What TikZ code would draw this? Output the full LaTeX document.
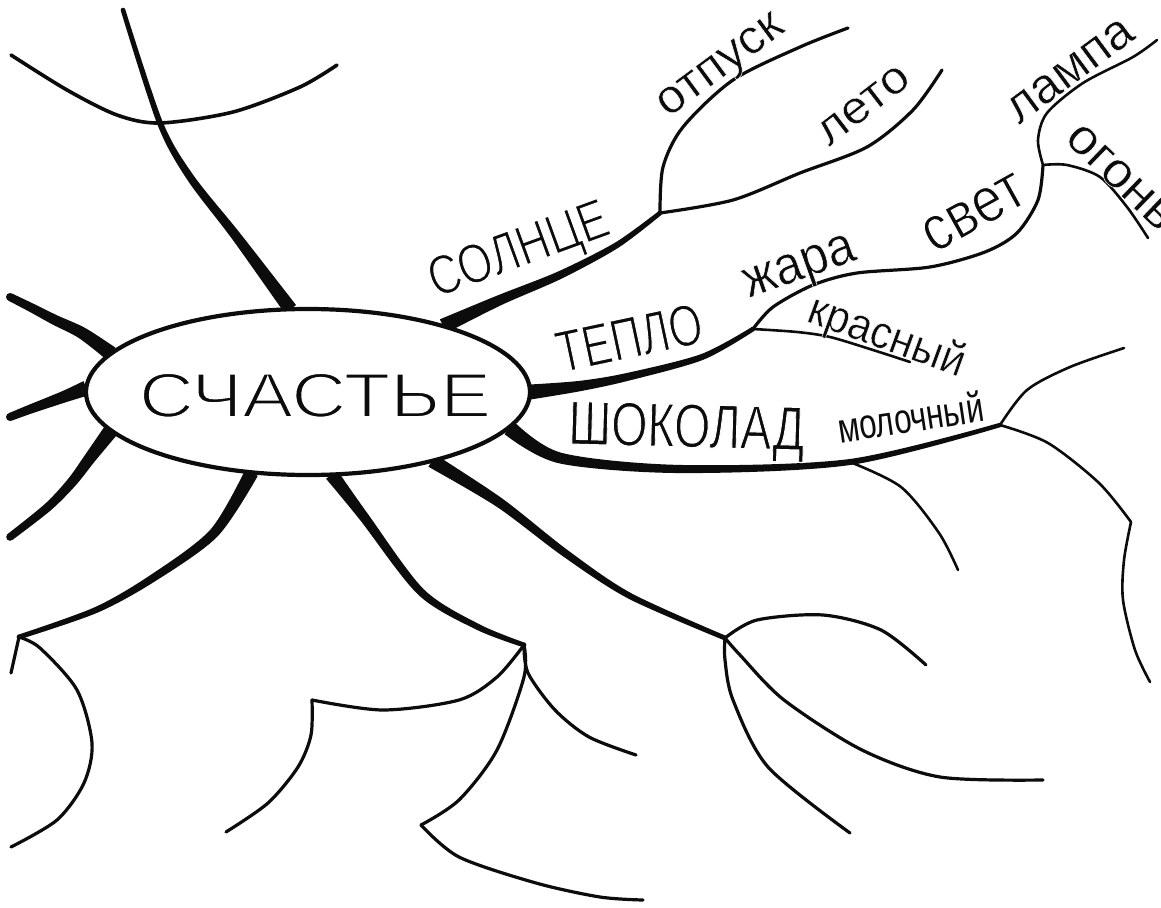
\documentclass[tikz,border=0pt]{standalone}
\usepackage{fontspec}
\setmainfont{Liberation Sans}
\usepackage{graphicx}
\usetikzlibrary{calc,shapes.geometric}
\definecolor{ink}{RGB}{12,12,12}
\pgfdeclarelayer{bg}
\pgfsetlayers{bg,main}
% tapered branch through five named points, half-widths #6 (start) and #7 (end)
\newcommand\taper[7]{%
  \pgfmathsetmacro\ta{#6}%
  \pgfmathsetmacro\tb{#7+(#6-#7)*0.55}%
  \pgfmathsetmacro\tc{#7+(#6-#7)*0.32}%
  \pgfmathsetmacro\td{#7+(#6-#7)*0.14}%
  \pgfmathsetmacro\te{#7}%
  \coordinate (tL1) at ($(#1)!\ta pt!90:(#2)$);
  \coordinate (tR1) at ($(#1)!\ta pt!-90:(#2)$);
  \coordinate (tv2) at ($(#1)!\tb pt!90:(#3)$);
  \coordinate (tL2) at ($(#2)+(tv2)-(#1)$);
  \coordinate (tR2) at ($(#2)-(tv2)+(#1)$);
  \coordinate (tv3) at ($(#2)!\tc pt!90:(#4)$);
  \coordinate (tL3) at ($(#3)+(tv3)-(#2)$);
  \coordinate (tR3) at ($(#3)-(tv3)+(#2)$);
  \coordinate (tv4) at ($(#3)!\td pt!90:(#5)$);
  \coordinate (tL4) at ($(#4)+(tv4)-(#3)$);
  \coordinate (tR4) at ($(#4)-(tv4)+(#3)$);
  \coordinate (tL5) at ($(#5)!\te pt!-90:(#4)$);
  \coordinate (tR5) at ($(#5)!\te pt!90:(#4)$);
  \fill[ink] plot[smooth] coordinates {(tL1) (tL2) (tL3) (tL4) (tL5)}
     -- plot[smooth] coordinates {(tR5) (tR4) (tR3) (tR2) (tR1)} -- cycle;
  \fill[ink] (#5) circle[radius=\te pt];
}
\newcommand\lbl[3]{\resizebox{#2pt}{\height}{\fontsize{#1pt}{#1pt}\selectfont #3}}
% thin the glyphs: fill, then stroke their outline in white
\newcommand\thinglyphs[1]{\special{pdf:literal direct 1 1 1 RG 2 Tr #1 w}}
\begin{document}
\begin{tikzpicture}[x=1pt,y=-1pt,
  thinbr/.style={draw=ink,line width=3.2pt,line cap=round,line join=round},
  finebr/.style={draw=ink,line width=2.6pt,line cap=round,line join=round},
  word/.style={inner sep=0pt,outer sep=0pt,anchor=base west,text=ink}]
\useasboundingbox (0,0) rectangle (1161,907);
\node[ellipse,draw=ink,fill=white,line width=4.2pt,minimum width=444pt,
      minimum height=166pt,inner sep=0pt,outer sep=0pt] (E) at (308,392) {};
\node[word] (wSch) at (139,417) {\thinglyphs{1.9}\lbl{63}{352}{СЧАСТЬЕ}};

\begin{pgfonlayer}{bg}
\fill[white] (0,0) rectangle (1161,907);
% junctions and ends
\coordinate (sJ) at (660,213);
\coordinate (tJ) at (753,329);
\coordinate (tK) at (1043,165);
\coordinate (iA) at (850,462);
\coordinate (iB) at (1000,425);
\coordinate (iK) at (1131,522);
\coordinate (gJ) at (524,645);
\coordinate (gK) at (312,700);
\coordinate (gL) at (421,825);
\coordinate (hJ) at (725,638);
\coordinate (fJ) at (19,637);
% thick tapered branches
\coordinate (a0) at (E.102); \coordinate (a1) at (236,236); \coordinate (a2) at (190,177);
\coordinate (a3) at (160,123); \coordinate (a4) at (123,10);
\taper{a0}{a1}{a2}{a3}{a4}{7}{2.3}
\coordinate (c0) at (E.169); \coordinate (c1) at (82,333); \coordinate (c2) at (55,320);
\coordinate (c3) at (32,308); \coordinate (c4) at (10,297);
\taper{c0}{c1}{c2}{c3}{c4}{7.5}{4}
\coordinate (d0) at (E.179); \coordinate (d1) at (66,396); \coordinate (d2) at (47,403);
\coordinate (d3) at (28,410); \coordinate (d4) at (10,417);
\taper{d0}{d1}{d2}{d3}{d4}{7.5}{4}
\coordinate (e0) at (E.191); \coordinate (e1) at (90,458); \coordinate (e2) at (72,482);
\coordinate (e3) at (48,507); \coordinate (e4) at (10,537);
\taper{e0}{e1}{e2}{e3}{e4}{7.5}{3.8}
\coordinate (f0) at (E.235); \coordinate (f1) at (214,533); \coordinate (f2) at (153,578);
\coordinate (f3) at (96,610);
\taper{f0}{f1}{f2}{f3}{fJ}{7}{2.4}
\coordinate (g0) at (E.286); \coordinate (g1) at (364,517); \coordinate (g2) at (421,592);
\coordinate (g3) at (478,627);
\taper{g0}{g1}{g2}{g3}{gJ}{7}{2.4}
\coordinate (h0) at (E.331); \coordinate (h1) at (500,503); \coordinate (h2) at (565,553);
\coordinate (h3) at (630,596);
\taper{h0}{h1}{h2}{h3}{hJ}{7}{2.4}
\coordinate (i0) at (E.350); \coordinate (i1) at (560,458); \coordinate (i2) at (680,469);
\taper{i0}{i1}{i2}{iA}{iB}{8}{2.2}
\coordinate (s0) at (E.26); \coordinate (s1) at (500,300); \coordinate (s2) at (560,275);
\coordinate (s3) at (617,245);
\taper{s0}{s1}{s2}{s3}{sJ}{7.5}{2.3}
\coordinate (t0) at (E.0); \coordinate (t1) at (580,386); \coordinate (t2) at (627,377);
\coordinate (t3) at (702,357);
\taper{t0}{t1}{t2}{t3}{tJ}{7.5}{2.3}
% thin branches
\coordinate (b0) at (11,55); \coordinate (b1) at (337,65);
\draw[thinbr,line width=3.6pt] plot[smooth] coordinates {(b0) (67,90) (117,115) (160,123) (233,112) (300,87) (b1)};
\coordinate (s1e) at (848,28); \coordinate (s2e) at (942,70);
\draw[thinbr] plot[smooth] coordinates {(sJ) (663,167) (683,127) (733,80) (800,47) (s1e)};
\draw[thinbr] plot[smooth] coordinates {(sJ) (733,200) (800,173) (867,147) (913,110) (s2e)};
\draw[thinbr] plot[smooth] coordinates {(tJ) (773,307) (813,285) (857,273) (930,267) (985,252) (1017,233) (1038,200) (tK)};
\coordinate (t2e) at (910,362);
\draw[finebr] plot[smooth] coordinates {(tJ) (797,332) (830,337) (873,350) (t2e)};
\coordinate (tae) at (1157,40); \coordinate (tbe) at (1148,238);
\draw[finebr] plot[smooth] coordinates {(tK) (1038,140) (1047,113) (1083,83) (1133,57) (tae)};
\draw[finebr] plot[smooth] coordinates {(tK) (1067,165) (1100,177) (1127,207) (tbe)};
\coordinate (i1e) at (958,570); \coordinate (i2e) at (1124,348); \coordinate (i3e) at (1150,682);
\draw[finebr] plot[smooth] coordinates {(iA) (901,487) (939,533) (i1e)};
\draw[finebr] plot[smooth] coordinates {(iB) (1027,390) (1070,367) (i2e)};
\draw[finebr] plot[smooth] coordinates {(iB) (1048,443) (1099,483) (iK)};
\draw[finebr] plot[smooth] coordinates {(iK) (1124,560) (1123,600) (1135,650) (i3e)};
\coordinate (g1e) at (226,832); \coordinate (g2e) at (643,900); \coordinate (g3e) at (636,755);
\draw[thinbr] plot[smooth] coordinates {(gJ) (497,677) (459,700) (383,710) (gK)};
\draw[thinbr] plot[smooth] coordinates {(gK) (311,735) (298,767) (268,803) (g1e)};
\draw[thinbr] plot[smooth] coordinates {(gJ) (524,677) (497,750) (459,800) (gL)};
\draw[thinbr] plot[smooth] coordinates {(gL) (459,857) (536,883) (600,897) (g2e)};
\draw[thinbr] plot[smooth] coordinates {(gJ) (528,673) (555,710) (589,737) (g3e)};
\coordinate (h1e) at (926,665); \coordinate (h2e) at (850,833); \coordinate (h3e) at (1043,780);
\draw[thinbr] plot[smooth] coordinates {(hJ) (757,620) (823,615) (881,630) (h1e)};
\draw[thinbr] plot[smooth] coordinates {(hJ) (725,660) (733,700) (768,767) (h2e)};
\draw[thinbr] plot[smooth] coordinates {(hJ) (740,655) (784,700) (862,750) (940,777) (h3e)};
\coordinate (f1e) at (11,673); \coordinate (f2e) at (11,847);
\draw[thinbr] (fJ) -- (f1e);
\draw[thinbr] plot[smooth] coordinates {(fJ) (40,648) (77,690) (92,743) (84,783) (57,820) (f2e)};
\end{pgfonlayer}

% labels
\node[word,rotate=20] (wSol) at (436,298) {\thinglyphs{1.3}\lbl{56}{188}{СОЛНЦЕ}};
\node[word,rotate=12] (wTep) at (561,373) {\thinglyphs{1.3}\lbl{59}{148}{ТЕПЛО}};
\node[word,rotate=-1.5] (wSho) at (568,444) {\thinglyphs{1.1}\lbl{62}{236}{ШОКОЛАД}};
\node[word,rotate=8.5] (wMol) at (840,443) {\lbl{42}{147}{молочный}};
\node[word,rotate=-20] (wKra) at (805,321) {\thinglyphs{0.5}\lbl{46}{164}{красный}};
\node[word,rotate=19.5] (wZha) at (749,298) {\thinglyphs{0.6}\lbl{54}{116}{жара}};
\node[word,rotate=29] (wSve) at (934,254) {\thinglyphs{1.2}\lbl{64}{110}{свет}};
\node[word,rotate=36.5] (wLam) at (1019,125) {\thinglyphs{0.5}\lbl{50}{147}{лампа}};
\node[word,rotate=-44] (wOgo) at (1063,140) {\thinglyphs{0.5}\lbl{50}{134}{огонь}};
\node[word,rotate=36.4] (wOtp) at (668,118) {\thinglyphs{0.5}\lbl{48}{147}{отпуск}};
\node[word,rotate=37.6] (wLet) at (829,147) {\thinglyphs{0.5}\lbl{46}{106}{лето}};
\end{tikzpicture}
\end{document}
